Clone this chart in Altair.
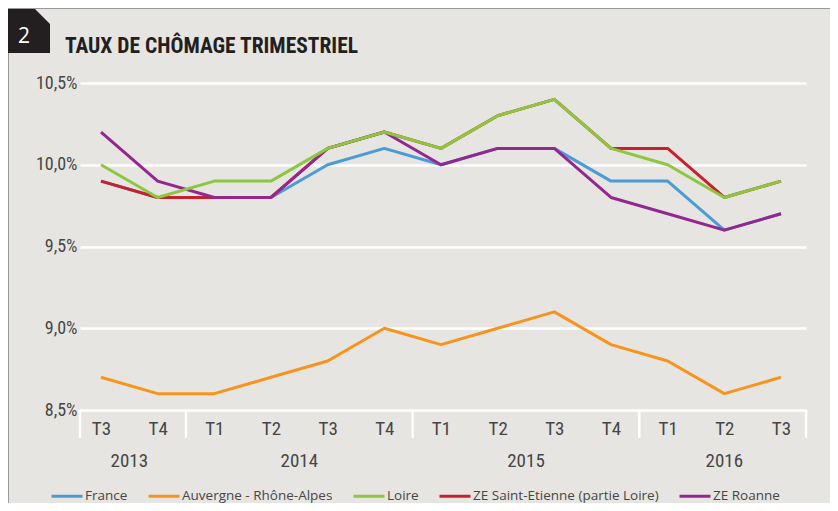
import altair as alt
import pandas as pd

# ---------------- data ----------------
quarters = ["T3", "T4", "T1", "T2", "T3", "T4", "T1", "T2", "T3", "T4", "T1", "T2", "T3"]
years = ["2013", "2013", "2014", "2014", "2014", "2014", "2015", "2015", "2015", "2015", "2016", "2016", "2016"]
series_names = ["France", "Auvergne - Rhône-Alpes", "Loire", "ZE Saint-Etienne (partie Loire)", "ZE Roanne"]
france = [9.9, 9.8, 9.8, 9.8, 10.0, 10.1, 10.0, 10.1, 10.1, 9.9, 9.9, 9.6, 9.7]
auvergne_ra = [8.7, 8.6, 8.6, 8.7, 8.8, 9.0, 8.9, 9.0, 9.1, 8.9, 8.8, 8.6, 8.7]
loire = [10.0, 9.8, 9.9, 9.9, 10.1, 10.2, 10.1, 10.3, 10.4, 10.1, 10.0, 9.8, 9.9]
ze_saint_etienne = [9.9, 9.8, 9.8, 9.8, 10.1, 10.2, 10.1, 10.3, 10.4, 10.1, 10.1, 9.8, 9.9]
ze_roanne = [10.2, 9.9, 9.8, 9.8, 10.1, 10.2, 10.0, 10.1, 10.1, 9.8, 9.7, 9.6, 9.7]
y_ticks = [8.5, 9.0, 9.5, 10.0, 10.5]
title_text = "TAUX DE CHÔMAGE TRIMESTRIEL"
badge_text = "2"

colors = ["#4b9bd5", "#f7941d", "#8dc63f", "#c8202f", "#93278f"]
draw_order = ["France", "Auvergne - Rhône-Alpes", "ZE Saint-Etienne (partie Loire)", "ZE Roanne", "Loire"]

BG = "#e6e5e1"
NARROW = "Liberation Sans Narrow, Roboto Condensed, DejaVu Sans Condensed, sans-serif"
TXT = "#464646"

values_by_series = dict(zip(series_names, [france, auvergne_ra, loire, ze_saint_etienne, ze_roanne]))
rows = []
for s, vals in values_by_series.items():
    for i, v in enumerate(vals):
        rows.append({"idx": i, "quarter": quarters[i], "year": years[i], "serie": s, "value": v})
df = pd.DataFrame(rows)

W, H = 726, 327
x_lo, x_hi = -0.3706, 12.441
xscale = alt.Scale(domain=[x_lo, x_hi], nice=False, zero=False)
yscale = alt.Scale(domain=[8.5, 10.5], nice=False, zero=False)

q_js = "[" + ",".join("'%s'" % q for q in quarters) + "]"

x_axis = alt.Axis(values=list(range(len(quarters))), labelExpr=q_js + "[datum.value]",
                  domain=False, ticks=False, grid=False, labelPadding=18, labelBaseline="middle",
                  labelFont=NARROW, labelFontSize=19, labelColor=TXT, title=None, labelOverlap=False)
y_axis = alt.Axis(values=y_ticks, labelExpr="replace(format(datum.value, '.1f'), '.', ',') + '%'",
                  domain=False, ticks=False, grid=True, gridColor="white", gridWidth=2.5,
                  labelPadding=3, labelFont=NARROW, labelFontSize=18, labelColor=TXT, title=None)

color = alt.Color("serie:N", scale=alt.Scale(domain=series_names, range=colors),
                  legend=alt.Legend(orient="none", legendX=-30, legendY=396, direction="horizontal",
                                    title=None, symbolType="stroke", symbolSize=961, symbolStrokeWidth=3,
                                    labelFont="Open Sans", labelFontSize=13.5, labelColor=TXT,
                                    labelOffset=1, columnPadding=14, padding=0, labelLimit=0))

line_layers = [
    alt.Chart(df).transform_filter(alt.datum.serie == s).mark_line(strokeWidth=3, strokeJoin="round").encode(
        x=alt.X("idx:Q", scale=xscale, axis=x_axis),
        y=alt.Y("value:Q", scale=yscale, axis=y_axis),
        color=color,
    )
    for s in draw_order
]

# year group separators (between groups + plot edges)
seps = [x_lo] + [i - 0.5 for i in range(1, len(years)) if years[i] != years[i - 1]] + [x_hi]
sep_df = pd.DataFrame({"idx": seps})
separators = alt.Chart(sep_df).mark_rule(color="white", strokeWidth=2.5).encode(
    x=alt.X("idx:Q", scale=xscale, axis=x_axis), y=alt.value(H), y2=alt.value(H + 28))

# year labels centered on each group
yr_rows = []
for y in dict.fromkeys(years):
    ids = [i for i, yy in enumerate(years) if yy == y]
    yr_rows.append({"idx": (ids[0] + ids[-1]) / 2, "year": y})
year_labels = alt.Chart(pd.DataFrame(yr_rows)).mark_text(
    font=NARROW, fontSize=19, color=TXT, baseline="middle").encode(
    x=alt.X("idx:Q", scale=xscale, axis=x_axis), y=alt.value(H + 51), text="year:N")

# header decorations
one = pd.DataFrame({"t": [title_text], "b": [badge_text]})
badge = alt.Chart(one).mark_rect(color="#231f20").encode(
    x=alt.value(-72), x2=alt.value(-30), y=alt.value(-74), y2=alt.value(-30))
corner = alt.Chart(one).mark_point(shape="M-1,-1L1,-1L1,1Z", filled=True, color=BG, opacity=1,
                                   size=225, strokeWidth=0).encode(
    x=alt.value(-37.5), y=alt.value(-66.5))
badge_txt = alt.Chart(one).mark_text(font="Open Sans", fontSize=21, color="white",
                                     align="center", baseline="alphabetic").encode(
    x=alt.value(-56), y=alt.value(-40), text="b:N")
title = alt.Chart(one).mark_text(font=NARROW, fontWeight="bold", fontSize=21.5, color="#231f20",
                                 align="left", baseline="alphabetic").encode(
    x=alt.value(-15), y=alt.value(-30), text="t:N")
top_border = alt.Chart(one).mark_rule(color="#9a9a9a", strokeWidth=1).encode(
    x=alt.value(-72), x2=alt.value(760), y=alt.value(-74.5))
left_border = alt.Chart(one).mark_rule(color="#9a9a9a", strokeWidth=1).encode(
    x=alt.value(-71.5), y=alt.value(-30), y2=alt.value(430))

chart = alt.layer(
    *line_layers, separators, year_labels, badge, corner, badge_txt, title, top_border, left_border
).properties(
    width=W, height=H,
    autosize=alt.AutoSizeParams(type="none"),
    padding={"left": 72, "top": 75, "right": 24, "bottom": 93},
).configure(background=BG).configure_view(stroke=None)

chart.save("out.html", embed_options={"renderer": "svg", "actions": False})
